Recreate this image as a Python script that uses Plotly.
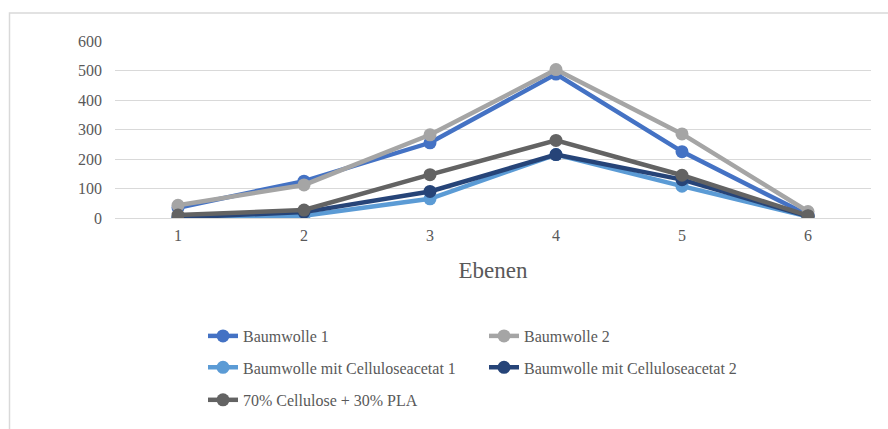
import plotly.graph_objects as go

ebenen = [1, 2, 3, 4, 5, 6]
tick_labels = ["1", "2", "3", "4", "5", "6"]
baumwolle_1 = [35, 125, 255, 488, 225, 10]
baumwolle_2 = [43, 112, 282, 503, 285, 22]
ca_1 = [0, 8, 65, 215, 108, 5]
ca_2 = [2, 20, 90, 215, 130, 6]
cell_pla = [10, 27, 147, 263, 145, 8]

series = [
    ("Baumwolle 1", baumwolle_1, "#4472C4", "legend"),
    ("Baumwolle 2", baumwolle_2, "#A5A5A5", "legend"),
    ("Baumwolle mit Celluloseacetat 1", ca_1, "#5B9BD5", "legend2"),
    ("Baumwolle mit Celluloseacetat 2", ca_2, "#264478", "legend2"),
    ("70% Cellulose + 30% PLA", cell_pla, "#636363", "legend3"),
]

FONT = "Liberation Serif"
TXT = "#595959"
GRID = "#D9D9D9"

fig = go.Figure()
for name, vals, col, lg in series:
    fig.add_trace(go.Scatter(
        x=ebenen, y=vals, name=name, mode="lines+markers",
        line=dict(color=col, width=4.5),
        marker=dict(color=col, size=13, symbol="circle"),
        legend=lg,
    ))

L, R, T, B = 115, 17, 41, 208
W, H = 888, 429
pw = W - L - R
ph = H - T - B

def px_to_paper_x(x):
    return (x - L) / pw

def px_to_paper_y(y):
    return (T + ph - y) / ph

leg_common = dict(orientation="h", xanchor="left", yanchor="middle",
                  font=dict(family=FONT, size=16, color=TXT),
                  entrywidth=236, bgcolor="rgba(0,0,0,0)")

fig.update_layout(
    width=W, height=H,
    margin=dict(l=L, r=R, t=T, b=B),
    paper_bgcolor="white", plot_bgcolor="white",
    font=dict(family=FONT, color=TXT),
    showlegend=True,
    legend=dict(x=px_to_paper_x(203), y=px_to_paper_y(341), **leg_common),
    legend2=dict(x=px_to_paper_x(203), y=px_to_paper_y(373), **leg_common),
    legend3=dict(x=px_to_paper_x(203), y=px_to_paper_y(406), **leg_common),
    xaxis=dict(
        range=[0.5, 6.5], tickmode="array", tickvals=ebenen, ticktext=tick_labels,
        showgrid=False, zeroline=False, showline=False,
        tickfont=dict(family=FONT, size=16, color=TXT),
        ticks="", ticklabelstandoff=6,
        title=dict(text="Ebenen", font=dict(family=FONT, size=23, color=TXT), standoff=18),
    ),
    yaxis=dict(
        range=[0, 600], tickvals=[0, 100, 200, 300, 400, 500, 600],
        showgrid=True, gridcolor=GRID, gridwidth=1.3,
        zeroline=True, zerolinecolor=GRID, zerolinewidth=1.3,
        showline=False, ticks="",
        tickfont=dict(family=FONT, size=16, color=TXT),
        ticklabelstandoff=12,
    ),
    shapes=[dict(
        type="rect", xref="paper", yref="paper",
        x0=px_to_paper_x(9.5), x1=px_to_paper_x(920),
        y0=px_to_paper_y(460), y1=px_to_paper_y(12.5),
        line=dict(color=GRID, width=1.5), fillcolor="rgba(0,0,0,0)", layer="below",
    )],
)

fig.write_html(
    "out.html",
    config={"displayModeBar": False},
    post_script="document.body.style.margin='0';document.body.style.overflow='hidden';",
)
